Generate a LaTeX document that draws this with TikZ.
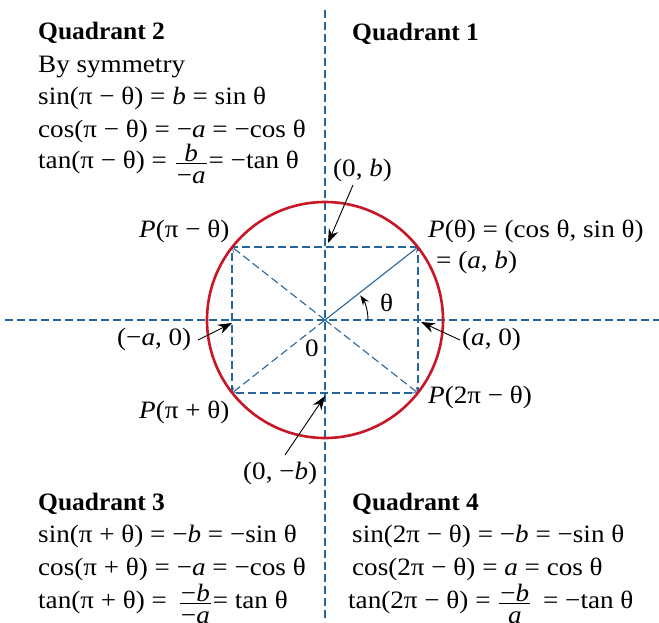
\documentclass[tikz,border=0pt]{standalone}
\usepackage{fontspec}
\setmainfont{Liberation Serif}[FakeStretch=1.085, BoldFeatures={FakeStretch=1.02}]
\usetikzlibrary{arrows.meta}
\definecolor{axisblue}{RGB}{38,102,158}
\definecolor{circred}{RGB}{200,22,38}
\newcommand\myfr[2]{%
  \setbox0=\hbox{#1}\setbox2=\hbox{#2}%
  \dimen0=\wd0 \ifdim\wd2>\dimen0 \dimen0=\wd2\fi
  \advance\dimen0 by 2pt
  \hbox{\kern2pt
    \rlap{\raise7pt\hbox to\dimen0{\hss\copy0\hss}}%
    \rlap{\lower15pt\hbox to\dimen0{\hss\copy2\hss}}%
    \rlap{\raise4.5pt\hbox{\vrule width\dimen0 height0.9pt depth0pt}}%
    \kern\dimen0\kern2pt}}
\begin{document}
\begin{tikzpicture}[x=1pt,y=-1pt,
  txt/.style={anchor=base west, inner sep=0pt, font=\fontsize{25}{30}\selectfont},
  hd/.style={txt, font=\fontsize{25}{30}\selectfont\bfseries},
  bluedash/.style={draw=axisblue, line width=1.1pt, dash pattern=on 8pt off 4pt},
  corner/.style={-{Straight Barb[length=4pt,width=7pt,line width=0.8pt]}},
  callout/.style={draw=black, line width=0.9pt, -{Stealth[length=14pt,width=10pt]}}
]
\useasboundingbox (0,0) rectangle (659,622);
% geometry
\coordinate (O) at (325,320);
\coordinate (P1) at (418,247);
\coordinate (P2) at (232,247);
\coordinate (P3) at (232,393);
\coordinate (P4) at (418,393);
\coordinate (axL) at (5,320);
\coordinate (axR) at (659,320);
\coordinate (axT) at (325,10);
\coordinate (axB) at (325,622);
% axes and rectangle
\draw[bluedash] (axL) -- (axR);
\draw[bluedash] (axT) -- (axB);
\draw[bluedash] (P1) -- (P2) -- (P3) -- (P4) -- cycle;
\draw[bluedash, corner] (O) -- (P2);
\draw[bluedash, corner] (O) -- (P3);
\draw[bluedash, corner] (O) -- (P4);
\draw[axisblue, line width=1.1pt, corner] (O) -- (P1);
% circle
\draw[circred, line width=2.6pt] (O) circle[radius=118];
% theta arc
\draw[black, line width=0.9pt, -{Stealth[length=10pt,width=7pt]}] ([xshift=43pt]O) arc[start angle=0, end angle=-35, radius=43];
\node[txt] (th) at (380,311) {θ};
\node[txt] (zero) at (305,356) {0};
% labels
\node[txt] (lb0) at (333,176) {(0, \textit{b})};
\node[txt] (lbm) at (243,479) {(0, −\textit{b})};
\node[txt] (lam) at (117,345) {(−\textit{a}, 0)};
\node[txt] (lap) at (462,345) {(\textit{a}, 0)};
\node[txt] (lp1) at (428,237) {\textit{P}(θ) = (cos θ, sin θ)};
\node[txt] (lp1b) at (436,268) {= (\textit{a}, \textit{b})};
\node[txt] (lp2) at (139,237) {\textit{P}(π − θ)};
\node[txt] (lp3) at (139,418) {\textit{P}(π + θ)};
\node[txt] (lp4) at (428,403) {\textit{P}(2π − θ)};
% callouts
\coordinate (tb0) at (328,243);
\coordinate (tbm) at (325,396);
\coordinate (tam) at (232,323);
\coordinate (tap) at (421,322);
\draw[callout] (353,185) -- (tb0);
\draw[callout] (285,455) -- (tbm);
\draw[callout] (198,340) -- (tam);
\draw[callout] (460,340) -- (tap);
% Quadrant 2
\node[hd] (q2) at (38,39) {Quadrant 2};
\node[txt] (q2a) at (38,72) {By symmetry};
\node[txt] (q2b) at (38,104) {sin(π − θ) = \textit{b} = sin θ};
\node[txt] (q2c) at (38,137) {cos(π − θ) = −\textit{a} = −cos θ};
\node[txt] (q2d) at (38,168) {tan(π − θ) = \myfr{\textit{b}}{−\textit{a}}= −tan θ};
% Quadrant 1
\node[hd] (q1) at (352,40) {Quadrant 1};
% Quadrant 3
\node[hd] (q3) at (38,510) {Quadrant 3};
\node[txt] (q3b) at (38,542) {sin(π + θ) = −\textit{b} = −sin θ};
\node[txt] (q3c) at (38,575) {cos(π + θ) = −\textit{a} = −cos θ};
\node[txt] (q3d) at (38,608) {tan(π + θ) = \,\myfr{−\textit{b}}{−\textit{a}}= tan θ};
% Quadrant 4
\node[hd] (q4) at (352,510) {Quadrant 4};
\node[txt] (q4b) at (352,542) {sin(2π − θ) = −\textit{b} = −sin θ};
\node[txt] (q4c) at (352,575) {cos(2π − θ) = \textit{a} = cos θ};
\node[txt] (q4d) at (348,608) {tan(2π − θ) = \myfr{−\textit{b}}{\textit{a}}\, = −tan θ};
\end{tikzpicture}
\end{document}
